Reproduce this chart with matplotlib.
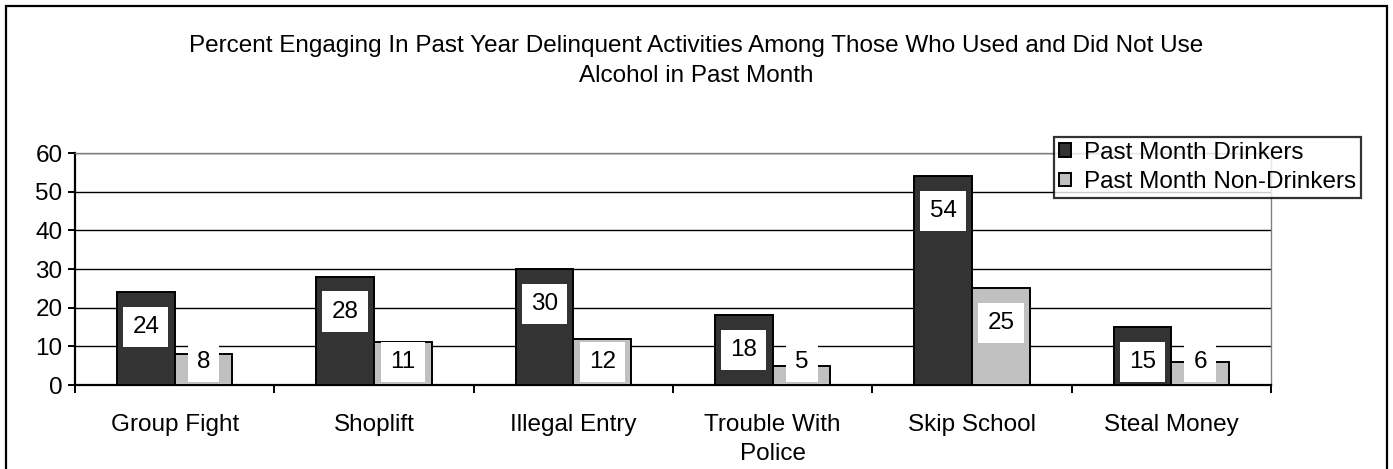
import numpy as np
import matplotlib
matplotlib.use("Agg")
import matplotlib.pyplot as plt
from matplotlib.patches import Rectangle

plt.rcParams["font.family"] = ["Liberation Sans", "DejaVu Sans"]

TITLE = ("Percent Engaging In Past Year Delinquent Activities Among Those Who Used and Did Not Use\n"
         "Alcohol in Past Month")
CATEGORIES = ["Group Fight", "Shoplift", "Illegal Entry", "Trouble With\nPolice",
              "Skip School", "Steal Money"]
DRINKERS = [24, 28, 30, 18, 54, 15]
NON_DRINKERS = [8, 11, 12, 5, 25, 6]
SERIES_NAMES = ["Past Month Drinkers", "Past Month Non-Drinkers"]
Y_TICKS = [0, 10, 20, 30, 40, 50, 60]

W, H = 1393, 469
FS = 17.5
fig = plt.figure(figsize=(W / 100, H / 100), dpi=100)

# outer chart frame (bottom edge falls off the image)
fig.add_artist(Rectangle((6 / W, -0.02), (1387 - 6) / W, 1 - 6 / H + 0.02,
                         transform=fig.transFigure, fill=False,
                         edgecolor="black", linewidth=1.6))

ax = fig.add_axes([75 / W, 1 - 385 / H, (1271 - 75) / W, (385 - 153) / H])

x = np.arange(len(CATEGORIES))
bw = 0.29
ax.bar(x - bw / 2, DRINKERS, bw, color="#333333", edgecolor="black",
       linewidth=1.4, label=SERIES_NAMES[0], zorder=3)
ax.bar(x + bw / 2, NON_DRINKERS, bw, color="#c0c0c0", edgecolor="black",
       linewidth=1.4, label=SERIES_NAMES[1], zorder=3)

# value labels in white boxes, a bit below the bar top
for xs, vals in [(x - bw / 2, DRINKERS), (x + bw / 2, NON_DRINKERS)]:
    for xi, v in zip(xs, vals):
        ax.text(xi, max(v - 9, 6), str(v), ha="center", va="center",
                fontsize=FS, zorder=5,
                bbox=dict(boxstyle="square,pad=0.38", facecolor="white",
                          edgecolor="none"))

ax.set_xlim(-0.5, len(CATEGORIES) - 0.5)
ax.set_ylim(0, 60)
ax.set_yticks(Y_TICKS)
ax.yaxis.grid(True, color="black", linewidth=1.0, zorder=0)
ax.set_axisbelow(True)

ax.set_xticks(np.arange(len(CATEGORIES) + 1) - 0.5)
ax.set_xticklabels([])
ax.set_xticks(x, minor=True)
ax.set_xticklabels(CATEGORIES, minor=True, fontsize=FS, linespacing=1.4)
ax.tick_params(axis="x", which="major", direction="out", length=6, width=1.4)
ax.tick_params(axis="x", which="minor", length=0, pad=21)
ax.tick_params(axis="y", direction="out", length=5, width=1.4, labelsize=FS, pad=4)

for s in ["left", "bottom"]:
    ax.spines[s].set_linewidth(1.6)
    ax.spines[s].set_color("black")
for s in ["top", "right"]:
    ax.spines[s].set_linewidth(1.0)
    ax.spines[s].set_color("#808080")

fig.text(0.5, 1 - 61 / H, TITLE, ha="center", va="center", fontsize=FS,
         linespacing=1.5)

leg = ax.legend(loc="upper left", bbox_to_anchor=(1054 / W, 1 - 137 / H),
                bbox_transform=fig.transFigure, fontsize=FS, frameon=True,
                fancybox=False, edgecolor="black", borderpad=0.2,
                handlelength=0.5, handleheight=0.5, handletextpad=0.55,
                labelspacing=0.3, borderaxespad=0)
leg.get_frame().set_linewidth(1.6)

fig.savefig("out.png", dpi=100)
